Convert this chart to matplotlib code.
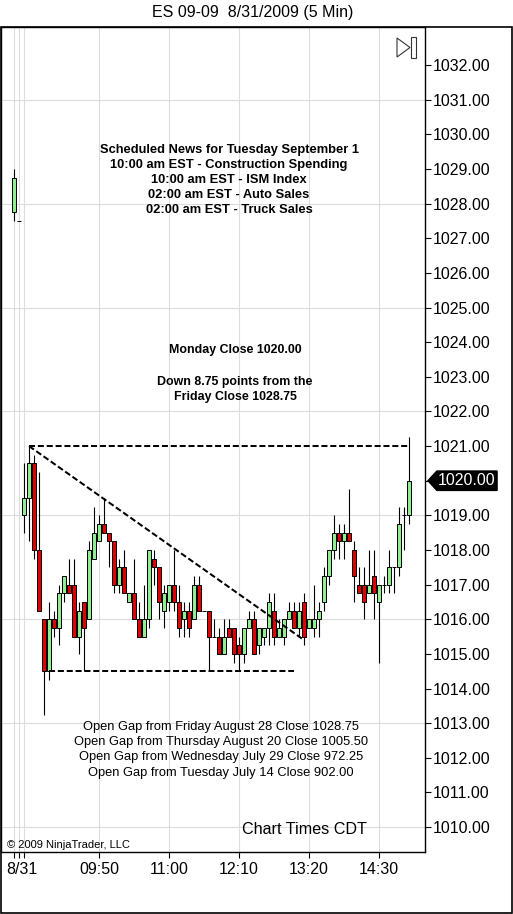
import numpy as np
import matplotlib
matplotlib.use('Agg')
import matplotlib.pyplot as plt
from matplotlib.patches import Polygon, Rectangle
from matplotlib.transforms import ScaledTranslation, blended_transform_factory

plt.rcParams['font.family'] = 'Liberation Sans'

# bar index (5 min bars, 0 = 8:35 CDT on 8/31), last two bars of Friday at -2, -1
bars = np.arange(-2, 78)
opens = [1027.75, 1027.5,
         1019.0, 1019.5, 1020.5, 1018.0, 1016.0, 1014.5, 1016.0, 1015.75, 1016.75, 1017.0,
         1017.0, 1015.5, 1016.5, 1016.0, 1017.75, 1018.25, 1018.75, 1018.5, 1018.25, 1017.0,
         1017.5, 1016.5, 1016.75, 1016.0, 1015.5, 1016.0, 1017.75, 1017.5, 1016.25, 1016.5,
         1017.0, 1016.5, 1016.0, 1016.25, 1016.0, 1017.0, 1016.25, 1016.25, 1015.5, 1015.5,
         1015.0, 1015.75, 1015.75, 1015.25, 1015.0, 1015.75, 1016.0, 1015.25, 1015.5, 1015.75,
         1016.25, 1015.5, 1015.5, 1016.0, 1016.25, 1015.75, 1016.5, 1015.75, 1015.75, 1016.0,
         1016.5, 1017.25, 1018.0, 1018.5, 1018.25, 1018.5, 1018.0, 1017.0, 1017.0, 1016.75,
         1017.25, 1016.5, 1017.0, 1017.0, 1017.5, 1017.5, 1019.0, 1019.0]
highs = [1029.0, 1027.5,
         1020.5, 1021.0, 1020.75, 1020.25, 1016.0, 1016.5, 1016.25, 1017.0, 1017.25, 1017.75,
         1017.75, 1016.5, 1016.5, 1018.25, 1019.25, 1019.0, 1019.5, 1018.5, 1018.25, 1017.75,
         1018.0, 1016.75, 1017.75, 1016.5, 1017.0, 1018.0, 1018.0, 1017.5, 1017.0, 1017.0,
         1018.0, 1017.0, 1016.5, 1016.5, 1017.25, 1017.25, 1016.25, 1016.25, 1016.0, 1015.75,
         1016.0, 1016.0, 1015.75, 1015.5, 1015.75, 1016.25, 1016.25, 1015.75, 1015.75, 1016.75,
         1016.75, 1016.0, 1016.0, 1016.5, 1016.5, 1016.5, 1016.75, 1016.0, 1017.0, 1016.5,
         1017.5, 1018.0, 1019.0, 1018.75, 1018.75, 1019.75, 1018.25, 1017.5, 1017.5, 1018.0,
         1018.0, 1017.0, 1017.25, 1018.0, 1017.5, 1019.25, 1019.25, 1021.25]
lows = [1027.5, 1027.5,
        1018.5, 1018.25, 1017.75, 1016.25, 1013.25, 1014.25, 1015.5, 1015.25, 1016.5, 1016.75,
        1015.5, 1015.0, 1014.5, 1016.0, 1017.75, 1018.25, 1018.5, 1017.5, 1016.75, 1016.75,
        1016.75, 1016.5, 1016.0, 1015.5, 1015.5, 1015.75, 1017.0, 1016.0, 1015.75, 1016.25,
        1016.25, 1015.5, 1015.5, 1015.5, 1016.0, 1016.25, 1016.25, 1014.5, 1015.5, 1015.0,
        1015.0, 1015.5, 1014.75, 1014.5, 1014.75, 1015.75, 1015.0, 1015.0, 1015.25, 1015.25,
        1015.25, 1015.5, 1015.25, 1016.0, 1015.75, 1015.5, 1015.25, 1015.75, 1015.5, 1015.5,
        1016.25, 1017.0, 1017.75, 1017.75, 1017.75, 1018.25, 1016.5, 1016.75, 1016.0, 1016.75,
        1016.0, 1014.75, 1016.75, 1016.75, 1016.75, 1017.25, 1018.0, 1018.75]
closes = [1028.75, 1027.5,
          1019.5, 1020.5, 1018.0, 1016.25, 1014.5, 1016.0, 1015.75, 1016.75, 1017.25, 1016.75,
          1015.5, 1016.25, 1015.75, 1018.0, 1018.5, 1018.75, 1018.5, 1018.25, 1017.0, 1017.5,
          1016.75, 1016.75, 1016.0, 1015.5, 1016.0, 1018.0, 1017.5, 1016.5, 1016.75, 1017.0,
          1016.5, 1015.75, 1016.25, 1015.75, 1017.0, 1016.25, 1016.25, 1015.5, 1015.5, 1015.0,
          1015.5, 1015.5, 1015.0, 1015.0, 1015.75, 1016.0, 1015.0, 1015.75, 1015.75, 1016.5,
          1015.5, 1015.75, 1016.0, 1016.25, 1015.75, 1016.25, 1015.5, 1016.0, 1016.0, 1016.25,
          1017.25, 1018.0, 1018.5, 1018.25, 1018.5, 1018.25, 1017.25, 1016.75, 1016.5, 1017.0,
          1016.75, 1017.0, 1017.0, 1017.5, 1017.5, 1018.75, 1019.0, 1020.0]

# x axis labels
tick_bars = [-2, -1, 0, 15, 29, 43, 57, 71]
tick_labels = ['', '8/31', '', '09:50', '11:00', '12:10', '13:20', '14:30']
price_ticks = np.arange(1010, 1033, 1)
grid_prices = np.arange(1010, 1032, 3)

# drawn lines: (bar start, price start, bar end, price end)
top_line = (1, 1021.0, 77, 1021.0)
trend_line = (1, 1021.0, 56, 1015.4)
low_line = (5, 1014.5, 54, 1014.5)

news_lines = ['Scheduled News for Tuesday September 1',
              '10:00 am EST - Construction Spending',
              '10:00 am EST - ISM Index',
              '02:00 am EST - Auto Sales',
              '02:00 am EST - Truck Sales']
close_lines = ['Monday Close 1020.00', '', 'Down 8.75 points from the', 'Friday Close 1028.75']
gap_lines = ['Open Gap from Friday August 28 Close 1028.75',
             'Open Gap from Thursday August 20 Close 1005.50',
             'Open Gap from Wednesday July 29 Close 972.25',
             'Open Gap from Tuesday July 14 Close 902.00']

W, H = 513, 914
fig = plt.figure(figsize=(W / 100, H / 100), dpi=100)
ax = fig.add_axes([1 / W, 62 / H, 424 / W, 825 / H])

o = np.array(opens)
c = np.array(closes)
hi = np.array(highs)
lo = np.array(lows)
colors = np.where(c > o, '#90ee90', np.where(c < o, '#e00000', 'black'))

ax.vlines(bars, lo, hi, color='black', linewidth=0.8, zorder=2)
ax.bar(bars, np.abs(c - o), bottom=np.minimum(o, c), width=0.8,
       color=colors, edgecolor='black', linewidth=0.7, zorder=3)

dash = (0, (3, 1.4))
for x0, y0, x1, y1 in [top_line, trend_line, low_line]:
    ax.plot([x0, x1], [y0, y1], color='black', linewidth=1.45, linestyle=dash, zorder=4)

ax.set_xlim(-4.6, 80.2)
ax.set_ylim(1009.28, 1033.1)

for p in grid_prices:
    ax.axhline(p, color='#dcdcdc', linewidth=0.8, zorder=0)
for b in tick_bars:
    ax.axvline(b, color='#dcdcdc', linewidth=0.8, zorder=0)

last = closes[-1]

ax.yaxis.tick_right()
ax.set_yticks(price_ticks)
# the last-price tag covers its own tick label
ax.set_yticklabels(['' if p == last else '%.2f' % p for p in price_ticks])
ax.tick_params(axis='y', length=4.3, width=0.8, pad=1, labelsize=11.5)
ax.set_xticks(tick_bars)
ax.set_xticklabels(tick_labels)
ax.tick_params(axis='x', length=4, width=0.8, pad=3, labelsize=11.5)
lbl = ax.get_xticklabels()[1]
lbl.set_transform(lbl.get_transform() + ScaledTranslation(0.03, 0, fig.dpi_scale_trans))
for s in ax.spines.values():
    s.set_linewidth(1.0)


def ax_xy(px, py):
    return (px - 1) / 424, (852 - py) / 825


for i, t in enumerate(news_lines):
    ax.text(*ax_xy(229, 150 + 15 * i), t, transform=ax.transAxes, ha='center', va='center',
            fontsize=9.3, fontweight='bold')
for t, py in zip(close_lines, [350, 366, 382, 397]):
    ax.text(*ax_xy(235, py), t, transform=ax.transAxes, ha='center', va='center',
            fontsize=8.9, fontweight='bold')
for i, t in enumerate(gap_lines):
    ax.text(*ax_xy(221, 727 + 15.2 * i), t, transform=ax.transAxes, ha='center', va='center',
            fontsize=9.3)
ax.text(*ax_xy(304, 829), 'Chart Times CDT', transform=ax.transAxes, ha='center', va='center',
        fontsize=11.6)
ax.text(*ax_xy(7, 845), '\u00a9 2009 NinjaTrader, LLC', transform=ax.transAxes, ha='left',
        va='center', fontsize=8)

# last price marker
tr = blended_transform_factory(ax.transAxes, ax.transData)
hh = 0.28
tag = Polygon([[1.007, last], [1.028, last + hh], [1.170, last + hh], [1.170, last - hh],
               [1.028, last - hh]], closed=True, facecolor='black', edgecolor='black',
              transform=tr, clip_on=False, zorder=5)
ax.add_patch(tag)
ax.text(1.03, last, '%.2f' % last, transform=tr, ha='left', va='center', color='white',
        fontsize=11.5, zorder=6)

# scroll-to-end icon
x0, y0 = ax_xy(397, 38)
x1, y1 = ax_xy(410, 57)
ax.add_patch(Polygon([[x0, y0], [x0, y1], [x1, (y0 + y1) / 2]], closed=True, facecolor='white',
                     edgecolor='#333333', linewidth=0.8, transform=ax.transAxes, zorder=6))
rx0, ry0 = ax_xy(411, 58)
rx1, ry1 = ax_xy(416, 37)
ax.add_patch(Rectangle((rx0, ry0), rx1 - rx0, ry1 - ry0, facecolor='white', edgecolor='#333333',
                       linewidth=0.8, transform=ax.transAxes, zorder=6))

# outer frame and title
fig.patches.append(Rectangle((0.5 / W, 1 / H), 511.5 / W, 886 / H, transform=fig.transFigure,
                             fill=False, edgecolor='black', linewidth=1.2))
fig.text(253 / W, 1 - 12 / H, 'ES 09-09  8/31/2009 (5 Min)', ha='center', va='center',
         fontsize=11.5)

fig.savefig('out.png', dpi=100)
